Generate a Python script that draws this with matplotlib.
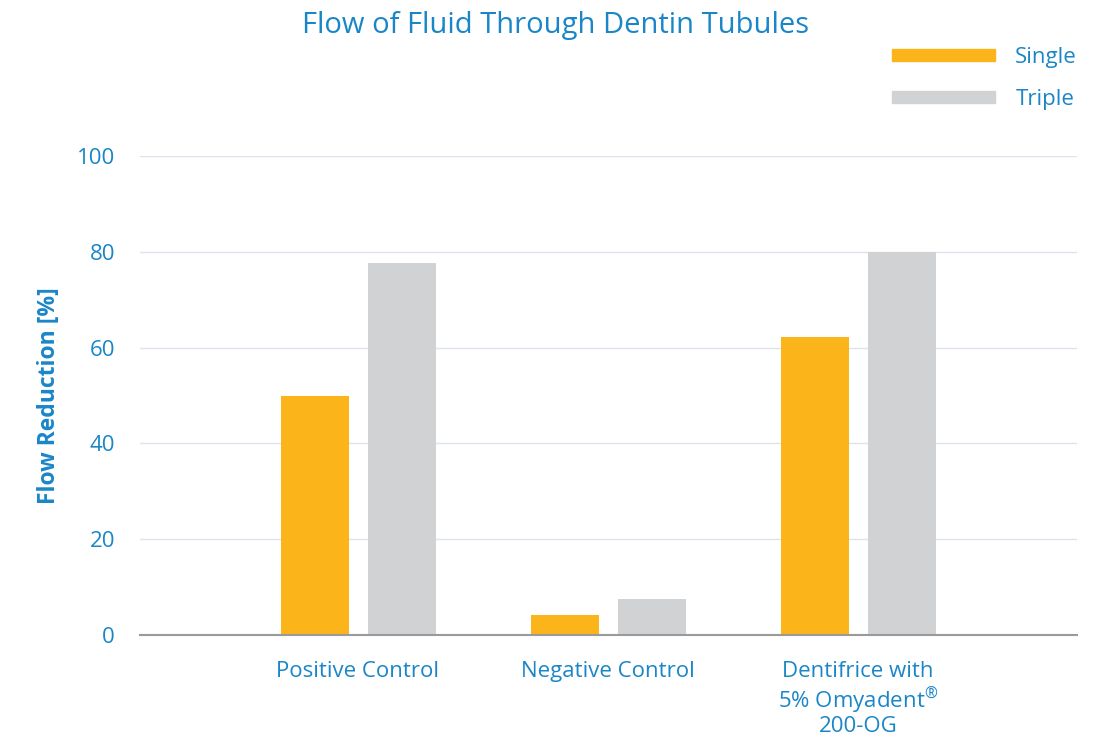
import matplotlib
matplotlib.use("Agg")
import matplotlib.pyplot as plt
from matplotlib.patches import Patch
import numpy as np

categories = ["Positive Control", "Negative Control", "Dentifrice with\n5% Omyadent$^{\u00ae}$\n200-OG"]
single = [50.0, 4.2, 62.2]
triple = [77.6, 7.5, 80.0]
series_names = ["Single", "Triple"]
yticks = [0, 20, 40, 60, 80, 100]

BLUE = "#1a86c8"
ORANGE = "#fbb51a"
GRAY = "#d1d2d4"

plt.rcParams['font.family'] = ['Open Sans', 'DejaVu Sans']
plt.rcParams['mathtext.fontset'] = 'custom'
plt.rcParams['mathtext.rm'] = 'Open Sans'
plt.rcParams['mathtext.it'] = 'Open Sans'

fig = plt.figure(figsize=(11.02, 7.41), dpi=100)
ax = fig.add_axes([140/1102, 1-635/741, (1077-140)/1102, (635-156)/741])

x = np.arange(len(categories))
w = 0.272
ax.bar(x - 0.174, single, width=w, color=ORANGE, zorder=3)
ax.bar(x + 0.174, triple, width=w, color=GRAY, zorder=3)

ax.set_xlim(-0.872, 2.876)
ax.set_ylim(0, 100)
ax.set_yticks(yticks)
ax.set_yticklabels([str(v) for v in yticks])
ax.set_xticks(x)
ax.set_xticklabels(categories, linespacing=1.12, va='top')
ax.tick_params(axis='both', length=0, labelcolor=BLUE, labelsize=16)
ax.tick_params(axis='x', pad=19)
ax.tick_params(axis='y', pad=18)

ax.grid(axis='y', color='#dde3ea', linewidth=1, zorder=0)
for s in ['top', 'right', 'left']:
    ax.spines[s].set_visible(False)
ax.spines['bottom'].set_color('#9a9a9a')
ax.spines['bottom'].set_linewidth(1.5)
ax.spines['bottom'].set_zorder(4)

ax.set_ylabel("Flow Reduction [%]", color=BLUE, fontsize=16.5, fontweight='bold', labelpad=11)

fig.text(556/1102, 1-26/741, "Flow of Fluid Through Dentin Tubules", color=BLUE,
         fontsize=21, ha='center', va='center')

handles = [Patch(color=ORANGE), Patch(color=GRAY)]
leg = fig.legend(handles, series_names, loc='upper right', bbox_to_anchor=(1077/1102, 1-47/741),
                 frameon=False, fontsize=16, handlelength=4.64, handleheight=0.45,
                 labelspacing=0.95, handletextpad=0.9, borderaxespad=0, borderpad=0)
for t in leg.get_texts():
    t.set_color(BLUE)

fig.savefig("out.png", dpi=100)
